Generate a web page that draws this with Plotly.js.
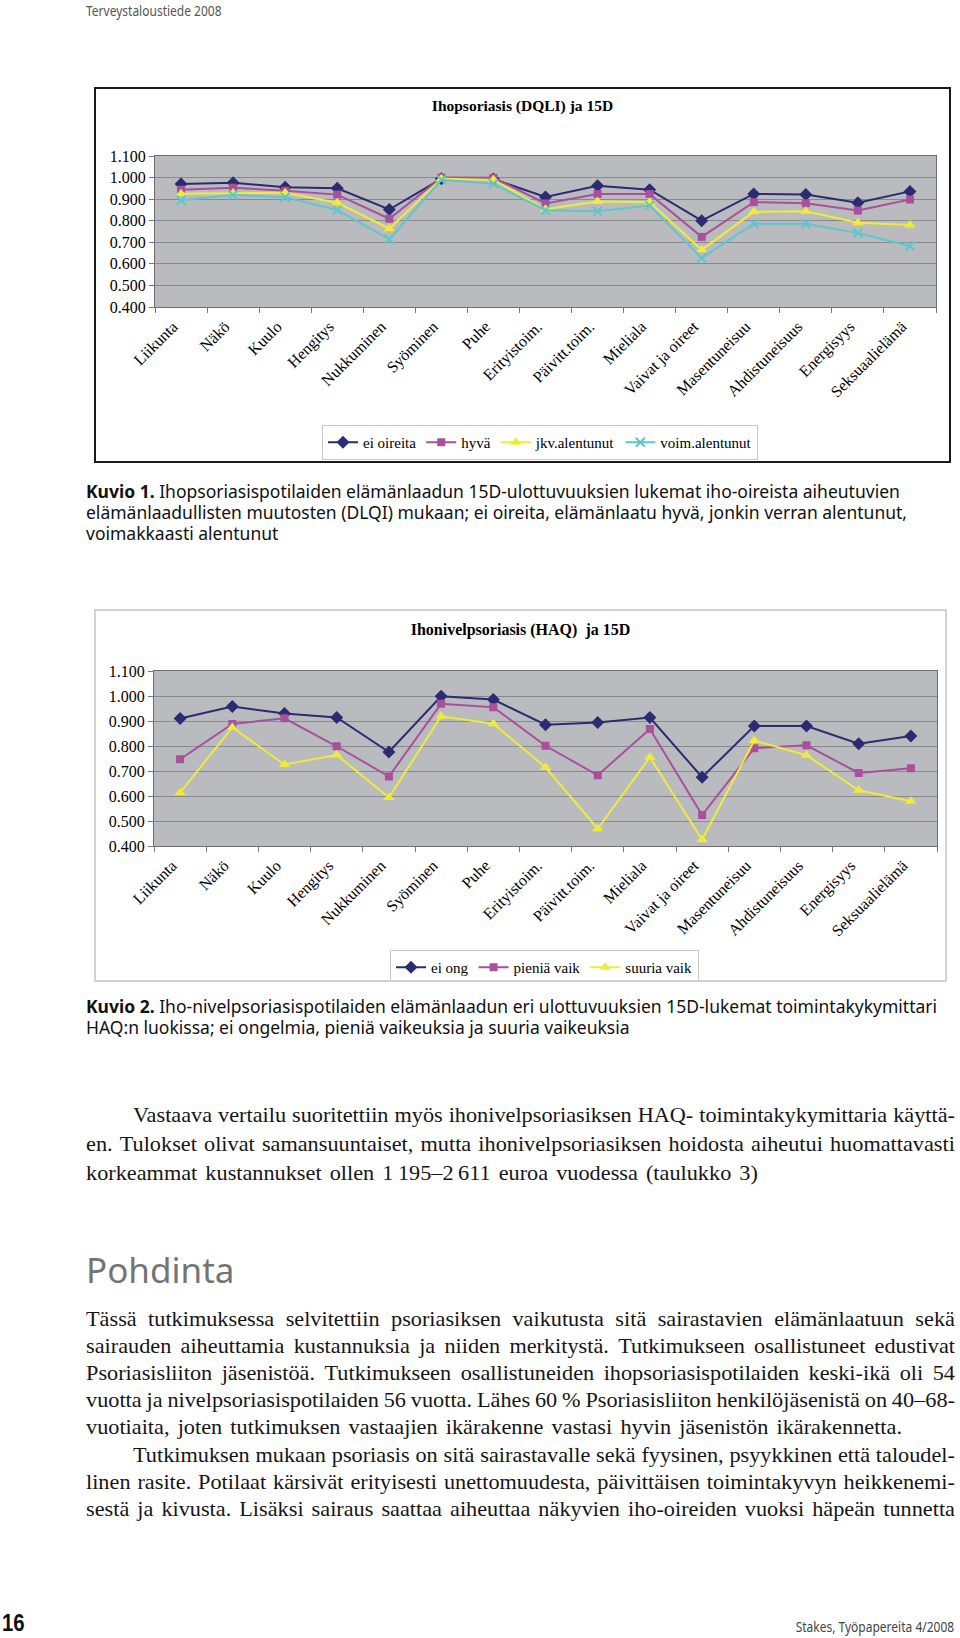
<!DOCTYPE html>
<html><head><meta charset="utf-8">
<script src="https://cdn.plot.ly/plotly-3.0.1.min.js"></script>
<style>
html,body{margin:0;padding:0;background:#fff;}
#page{position:relative;width:960px;height:1638px;overflow:hidden;background:#fff;}
.t{position:absolute;white-space:nowrap;}
.sans{font-family:"Noto Sans","Open Sans",sans-serif;}
.serif{font-family:"Liberation Serif","Times New Roman",serif;}
.frame{position:absolute;box-sizing:border-box;pointer-events:none;}
</style></head><body><div id="page">

<div class="t sans" style="left:86px;top:0px;height:21px;line-height:21px;font-size:15px;color:#555;transform:scaleX(0.8);transform-origin:0 0;">Terveystaloustiede 2008</div>

<div id="chart1" style="position:absolute;left:94px;top:87px;width:857px;height:376px;"></div>
<div class="frame" style="left:94px;top:87px;width:857px;height:376px;border:2px solid #1a1a1a;"></div>

<div class="t sans" style="left:86px;top:481px;line-height:21px;font-size:17.5px;color:#111;">
<b>Kuvio 1.</b> Ihopsoriasispotilaiden elämänlaadun 15D-ulottuvuuksien lukemat iho-oireista aiheutuvien<br>
elämänlaadullisten muutosten (DLQI) mukaan; ei oireita, elämänlaatu hyvä, jonkin verran alentunut,<br>
voimakkaasti alentunut</div>

<div id="chart2" style="position:absolute;left:94px;top:609px;width:853px;height:373px;"></div>
<div class="frame" style="left:94px;top:609px;width:853px;height:373px;border:2px solid #d2d2d2;"></div>

<div class="t sans" style="left:86px;top:996px;line-height:21px;font-size:17.5px;color:#111;">
<b>Kuvio 2.</b> Iho-nivelpsoriasispotilaiden elämänlaadun eri ulottuvuuksien 15D-lukemat toimintakykymittari<br>
HAQ:n luokissa; ei ongelmia, pieniä vaikeuksia ja suuria vaikeuksia</div>

<div class="t sans" style="left:86px;top:1246px;line-height:48px;font-size:35px;color:#747474;">Pohdinta</div>

<div class="t" style="left:2px;top:1611px;line-height:24px;height:24px;font-family:'Liberation Sans',Arial,sans-serif;font-size:24px;font-weight:bold;color:#111;transform:scaleX(0.85);transform-origin:0 0;">16</div>
<div class="t sans" style="right:6px;top:1615px;line-height:22px;font-size:15px;color:#444;transform:scaleX(0.8);transform-origin:100% 0;">Stakes, Työpapereita 4/2008</div>

</div>
<script>
// ---------- data ----------
const categories = ["Liikunta","Näkö","Kuulo","Hengitys","Nukkuminen","Syöminen","Puhe","Erityistoim.","Päivitt.toim.","Mieliala","Vaivat ja oireet","Masentuneisuu","Ahdistuneisuus","Energisyys","Seksuaalielämä"];

// Chart 1: Ihopsoriasis (DQLI) ja 15D
const dqliNames = ["ei oireita","hyvä","jkv.alentunut","voim.alentunut"];
const eiOireita   = [0.970,0.976,0.955,0.950,0.852,0.994,0.993,0.910,0.962,0.944,0.800,0.924,0.922,0.883,0.936];
const hyva        = [0.944,0.953,0.939,0.921,0.809,1.000,0.999,0.880,0.924,0.924,0.725,0.886,0.881,0.847,0.898];
const jkvAlentunut= [0.925,0.928,0.930,0.883,0.763,0.994,0.990,0.853,0.889,0.886,0.665,0.841,0.844,0.791,0.780];
const voimAlentunut=[0.895,0.919,0.909,0.849,0.714,0.990,0.971,0.849,0.844,0.870,0.627,0.786,0.786,0.743,0.683];

// Chart 2: Ihonivelpsoriasis (HAQ) ja 15D
const haqNames = ["ei ong","pieniä vaik","suuria vaik"];
const eiOng      = [0.910,0.958,0.930,0.914,0.776,0.999,0.986,0.885,0.894,0.914,0.675,0.880,0.880,0.809,0.840];
const pieniaVaik = [0.747,0.888,0.911,0.799,0.678,0.969,0.955,0.801,0.683,0.868,0.524,0.791,0.803,0.692,0.711];
const suuriaVaik = [0.613,0.874,0.726,0.764,0.594,0.919,0.889,0.715,0.469,0.755,0.425,0.822,0.763,0.623,0.579];

const yTicks = [0.4,0.5,0.6,0.7,0.8,0.9,1.0,1.1];

// ---------- styles ----------
const NAVY='#2b2b72', MAG='#a8509c', YEL='#efeb3a', CYAN='#5ec6ce';
const SERIF='"Liberation Serif","Times New Roman",serif';

function tr(name, y, color, symbol, size){
  const m = {symbol:symbol,size:size,color:color};
  if(symbol==='x-thin') m.line={color:color,width:2};
  return {type:'scatter',mode:'lines+markers',name:name,x:categories,y:y,
    line:{color:color,width:2},marker:m,cliponaxis:false};
}
function axes(){
  return {
    xaxis:{type:'category',tickangle:-45,tickfont:{family:SERIF,size:16,color:'#000'},
      ticks:'outside',ticklen:5,tickcolor:'#777',tickson:'boundaries',ticklabelstandoff:3,
      ticklabelshift:-8,
      showline:true,linecolor:'#6e6e6e',linewidth:1,mirror:true,showgrid:false,
      range:[-0.5,14.5],fixedrange:true},
    yaxis:{range:[0.4,1.1],tickvals:yTicks,tickformat:'.3f',
      tickfont:{family:SERIF,size:16,color:'#000'},ticks:'outside',ticklen:5,tickcolor:'#777',
      showline:true,linecolor:'#6e6e6e',linewidth:1,mirror:true,
      showgrid:true,gridcolor:'#8a8a8e',gridwidth:1,zeroline:false,fixedrange:true}
  };
}

const l1 = Object.assign({
  width:857,height:376,margin:{l:61,r:15,t:69,b:156,pad:0},
  paper_bgcolor:'#ffffff',plot_bgcolor:'#babbbf',
  title:{text:'<b>Ihopsoriasis (DQLI) ja 15D</b>',font:{family:SERIF,size:15.5,color:'#000'},
    x:0.5,xref:'container',xanchor:'center',y:1-19/376,yref:'container',yanchor:'middle'},
  showlegend:true,
  legend:{orientation:'h',xref:'container',yref:'container',x:228/857,y:1-338/376,
    xanchor:'left',yanchor:'top',bgcolor:'#fff',bordercolor:'#c8c8c8',borderwidth:1,
    font:{family:SERIF,size:15,color:'#000'},itemwidth:30}
}, axes());

Plotly.newPlot('chart1',[
  tr(dqliNames[0],eiOireita,NAVY,'diamond',10),
  tr(dqliNames[1],hyva,MAG,'square',8),
  tr(dqliNames[2],jkvAlentunut,YEL,'triangle-up',10),
  tr(dqliNames[3],voimAlentunut,CYAN,'x-thin',9)
], l1, {displayModeBar:false,staticPlot:true});

const l2 = Object.assign({
  width:853,height:373,margin:{l:60,r:10,t:62,b:136,pad:0},
  paper_bgcolor:'#ffffff',plot_bgcolor:'#babbbf',
  title:{text:'<b>Ihonivelpsoriasis (HAQ)  ja 15D</b>',font:{family:SERIF,size:16,color:'#000'},
    x:0.5,xref:'container',xanchor:'center',y:1-20/373,yref:'container',yanchor:'middle'},
  showlegend:true,
  legend:{orientation:'h',xref:'container',yref:'container',x:296/853,y:1-341/373,
    xanchor:'left',yanchor:'top',bgcolor:'#fff',bordercolor:'#c8c8c8',borderwidth:1,
    font:{family:SERIF,size:15,color:'#000'},itemwidth:30}
}, axes());

Plotly.newPlot('chart2',[
  tr(haqNames[0],eiOng,NAVY,'diamond',10),
  tr(haqNames[1],pieniaVaik,MAG,'square',8),
  tr(haqNames[2],suuriaVaik,YEL,'triangle-up',10)
], l2, {displayModeBar:false,staticPlot:true});

// ---------- body text (serif, each line spread to its own right end) ----------
const S = 1.06, LEFT = 86, RIGHT = 955, FS = 21, IND = 47;
function line(text, center, indent, endX){
  const d = document.createElement('div');
  d.className = 'serif';
  const w = (endX-LEFT-indent)/S;
  d.style.cssText = `position:absolute;left:${LEFT+indent}px;top:${center-14}px;height:28px;line-height:28px;`+
    `font-size:${FS}px;color:#151515;white-space:nowrap;transform:scaleX(${S});transform-origin:0 0;`+
    `width:${w}px;display:flex;justify-content:space-between;`;
  text.split(' ').forEach(wd=>{const s=document.createElement('span');s.textContent=wd;d.appendChild(s);});
  document.getElementById('page').appendChild(d);
}
const para1 = [
  ["Vastaava vertailu suoritettiin myös ihonivelpsoriasiksen HAQ- toimintakykymittaria käyttä-",IND,RIGHT],
  ["en. Tulokset olivat samansuuntaiset, mutta ihonivelpsoriasiksen hoidosta aiheutui huomattavasti",0,RIGHT],
  ["korkeammat kustannukset ollen 1\u2009195–2\u2009611 euroa vuodessa (taulukko 3)",0,758]
];
para1.forEach((p,i)=>line(p[0],1115+i*29,p[1],p[2]));
const para2 = [
  ["Tässä tutkimuksessa selvitettiin psoriasiksen vaikutusta sitä sairastavien elämänlaatuun sekä",0,RIGHT],
  ["sairauden aiheuttamia kustannuksia ja niiden merkitystä. Tutkimukseen osallistuneet edustivat",0,RIGHT],
  ["Psoriasisliiton jäsenistöä. Tutkimukseen osallistuneiden ihopsoriasispotilaiden keski-ikä oli 54",0,RIGHT],
  ["vuotta ja nivelpsoriasispotilaiden 56 vuotta. Lähes 60 % Psoriasisliiton henkilöjäsenistä on 40–68-",0,RIGHT],
  ["vuotiaita, joten tutkimuksen vastaajien ikärakenne vastasi hyvin jäsenistön ikärakennetta.",0,902],
  ["Tutkimuksen mukaan psoriasis on sitä sairastavalle sekä fyysinen, psyykkinen että taloudel-",IND,RIGHT],
  ["linen rasite. Potilaat kärsivät erityisesti unettomuudesta, päivittäisen toimintakyvyn heikkenemi-",0,RIGHT],
  ["sestä ja kivusta. Lisäksi sairaus saattaa aiheuttaa näkyvien iho-oireiden vuoksi häpeän tunnetta",0,RIGHT]
];
para2.forEach((p,i)=>line(p[0],1319+i*27.1,p[1],p[2]));
</script>
</body></html>
